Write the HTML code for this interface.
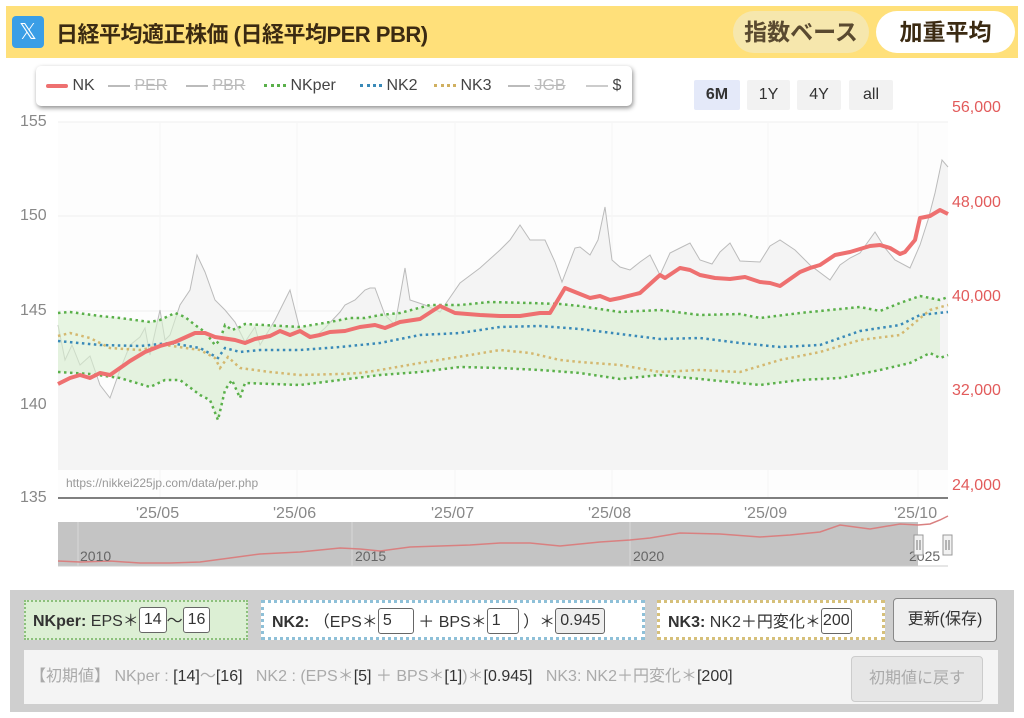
<!DOCTYPE html>
<html><head><meta charset="utf-8">
<style>
body{margin:0;width:1024px;height:718px;background:#fff;font-family:"Liberation Sans","Noto Sans CJK JP",sans-serif;position:relative;overflow:hidden}
.hdr{position:absolute;left:6px;top:6px;width:1012px;height:52px;background:#ffe07a;}
.xic{position:absolute;left:12px;top:16px;width:32px;height:32px;background:#3a9ee6;border-radius:4px;color:#fff;font-size:22px;text-align:center;line-height:32px}
.title{position:absolute;left:56px;top:17px;font-size:22px;font-weight:bold;color:#3b2a12;letter-spacing:-0.5px}
.pill{position:absolute;top:11px;height:42px;border-radius:21px;font-size:23px;font-weight:bold;line-height:42px;text-align:center}
.leg{position:absolute;left:36px;top:66px;width:596px;height:40px;background:#fff;border-radius:5px;box-shadow:1px 2px 5px rgba(0,0,0,.45);font-size:16px;color:#444}
.leg span{position:absolute;top:11px}
.rb{position:absolute;top:80px;height:30px;line-height:30px;text-align:center;background:#f2f2f2;font-size:16px;color:#333;border-radius:2px}
.ax{position:absolute;font-size:16px;color:#888}
.ar{position:absolute;font-size:16px;color:#e25b5b}
.mon{position:absolute;top:505px;font-size:16px;color:#888}
.panel{position:absolute;left:10px;top:590px;width:1004px;height:122px;background:#cfcfcf}
.box{position:absolute;top:600px;height:40px;font-size:16px;color:#333;line-height:40px;box-sizing:border-box}
.inp{display:inline-block;border:1px solid #666;border-radius:3px;background:#fff;height:24px;line-height:24px;padding:0 4px;vertical-align:middle;margin-top:-3px}
</style></head><body>
<div class="hdr"></div>
<div class="xic">𝕏</div>
<div class="title">日経平均適正株価 (日経平均PER PBR)</div>
<div class="pill" style="left:733px;width:136px;background:#f6e7ad;color:#5a4a30">指数ベース</div>
<div class="pill" style="left:876px;width:139px;background:#fff;color:#3b2a12">加重平均</div>

<div class="leg">
<span style="left:10px"><b style="display:inline-block;width:22px;height:4px;background:#ee7070;border-radius:2px;vertical-align:middle"></b> NK</span>
<span style="left:72px;color:#bbb"><b style="display:inline-block;width:22px;height:2px;background:#bbb;vertical-align:middle"></b> <s>PER</s></span>
<span style="left:150px;color:#bbb"><b style="display:inline-block;width:22px;height:2px;background:#bbb;vertical-align:middle"></b> <s>PBR</s></span>
<span style="left:228px"><b style="display:inline-block;width:22px;border-top:3px dotted #5ab04a;vertical-align:middle"></b> NKper</span>
<span style="left:324px"><b style="display:inline-block;width:22px;border-top:3px dotted #3a8ab8;vertical-align:middle"></b> NK2</span>
<span style="left:398px"><b style="display:inline-block;width:22px;border-top:3px dotted #d0b060;vertical-align:middle"></b> NK3</span>
<span style="left:472px;color:#bbb"><b style="display:inline-block;width:22px;height:2px;background:#bbb;vertical-align:middle"></b> <s>JGB</s></span>
<span style="left:550px"><b style="display:inline-block;width:22px;height:2px;background:#ccc;vertical-align:middle"></b> $</span>
</div>
<div class="rb" style="left:694px;width:46px;background:#e4e9f9;font-weight:bold">6M</div>
<div class="rb" style="left:747px;width:43px">1Y</div>
<div class="rb" style="left:797px;width:44px">4Y</div>
<div class="rb" style="left:849px;width:44px">all</div>

<div class="ax" style="left:20px;top:113px">155</div>
<div class="ax" style="left:20px;top:207px">150</div>
<div class="ax" style="left:20px;top:302px">145</div>
<div class="ax" style="left:20px;top:396px">140</div>
<div class="ax" style="left:20px;top:489px">135</div>
<div class="ar" style="left:952px;top:99px">56,000</div>
<div class="ar" style="left:952px;top:194px">48,000</div>
<div class="ar" style="left:952px;top:288px">40,000</div>
<div class="ar" style="left:952px;top:382px">32,000</div>
<div class="ar" style="left:952px;top:477px">24,000</div>

<svg style="position:absolute;left:0;top:0" width="1024" height="718">
<rect x="58" y="122" width="890" height="376" fill="#fdfdfd"/>
<g stroke="#efefef" stroke-width="1">
<line x1="58" y1="122" x2="948" y2="122"/><line x1="58" y1="216" x2="948" y2="216"/><line x1="58" y1="311" x2="948" y2="311"/><line x1="58" y1="405" x2="948" y2="405"/>
<line x1="160" y1="122" x2="160" y2="498" stroke="#f5f5f5"/><line x1="297" y1="122" x2="297" y2="498" stroke="#f5f5f5"/><line x1="455" y1="122" x2="455" y2="498" stroke="#f5f5f5"/><line x1="612" y1="122" x2="612" y2="498" stroke="#f5f5f5"/><line x1="768" y1="122" x2="768" y2="498" stroke="#f5f5f5"/><line x1="918" y1="122" x2="918" y2="498" stroke="#f5f5f5"/>
</g>
<polygon fill="#f4f4f4" points="58,470 58,325 65,360 72,345 80,365 90,356 100,385 110,398 120,370 130,345 140,337 145,328 150,355 160,310 165,340 170,335 180,305 190,290 197,255 205,272 215,300 225,310 235,322 245,342 255,327 260,345 275,320 285,300 290,290 300,330 315,337 325,328 340,312 345,305 355,300 365,290 370,288 375,288 385,315 395,325 405,268 410,300 425,305 440,312 460,283 480,268 500,250 510,240 520,225 530,240 545,240 555,262 562,282 575,248 580,247 590,255 598,240 605,207 612,260 620,267 630,270 640,262 650,255 660,275 670,253 680,248 690,243 700,260 712,264 720,252 730,243 740,261 760,262 770,246 780,240 795,250 810,265 830,280 840,265 850,258 860,253 875,232 885,248 895,260 910,268 920,245 928,220 935,193 942,160 948,167 948,470"/>
<polyline fill="none" stroke="#bbb" stroke-width="1" points="58,325 65,360 72,345 80,365 90,356 100,385 110,398 120,370 130,345 140,337 145,328 150,355 160,310 165,340 170,335 180,305 190,290 197,255 205,272 215,300 225,310 235,322 245,342 255,327 260,345 275,320 285,300 290,290 300,330 315,337 325,328 340,312 345,305 355,300 365,290 370,288 375,288 385,315 395,325 405,268 410,300 425,305 440,312 460,283 480,268 500,250 510,240 520,225 530,240 545,240 555,262 562,282 575,248 580,247 590,255 598,240 605,207 612,260 620,267 630,270 640,262 650,255 660,275 670,253 680,248 690,243 700,260 712,264 720,252 730,243 740,261 760,262 770,246 780,240 795,250 810,265 830,280 840,265 850,258 860,253 875,232 885,248 895,260 910,268 920,245 928,220 935,193 942,160 948,167"/>
<polygon fill="#d8f0d0" fill-opacity="0.6" points="58,313 70,312 100,316 120,318 150,322 160,320 175,313 185,317 195,325 205,332 215,345 220,340 225,325 232,330 240,327 245,324 300,327 330,322 350,318 365,318 380,315 400,313 430,305 460,305 490,302 530,303 560,304 580,306 620,312 660,310 700,315 740,314 760,318 800,313 830,310 860,307 880,311 900,303 920,296 940,300 940,358 930,353 910,363 880,370 840,378 800,380 760,385 700,379 660,375 620,379 580,373 540,370 500,368 460,367 420,372 380,375 340,380 300,385 245,383 240,398 232,380 225,390 218,420 210,400 200,395 180,380 165,380 150,387 120,378 90,374 58,372"/>
<g fill="none" stroke-width="2.5" stroke-dasharray="2.5,3.5">
<polyline stroke="#5ab04a" points="58,313 70,312 100,316 120,318 150,322 160,320 175,313 185,317 195,325 205,332 215,345 220,340 225,325 232,330 240,327 245,324 300,327 330,322 350,318 365,318 380,315 400,313 430,305 460,305 490,302 530,303 560,304 580,306 620,312 660,310 700,315 740,314 760,318 800,313 830,310 860,307 880,311 900,303 920,296 940,300 948,297"/>
<polyline stroke="#5ab04a" points="58,372 90,374 120,378 150,387 165,380 180,380 200,395 210,400 218,420 225,390 232,380 240,398 245,383 300,385 340,380 380,375 420,372 460,367 500,368 540,370 580,373 620,379 660,375 700,379 760,385 800,380 840,378 880,370 910,363 930,353 940,358 948,355"/>
<polyline stroke="#3a8ab8" points="58,341 100,345 140,346 170,343 200,348 218,358 225,348 240,352 260,350 300,350 340,347 380,343 420,335 460,333 500,327 540,326 580,329 620,334 660,339 700,338 740,343 780,347 820,345 860,331 900,325 920,315 948,312"/>
<polyline stroke="#d4b870" points="58,336 70,333 90,338 110,348 140,350 165,345 200,350 215,358 220,368 228,357 240,368 270,372 300,375 340,374 360,373 380,370 420,363 470,355 500,350 530,353 560,360 580,362 620,365 660,372 700,370 740,372 780,360 820,352 860,340 900,335 930,310 948,305"/>
</g>
<polyline fill="none" stroke="#ee7070" stroke-width="4" stroke-linejoin="round" points="58,384 70,378 80,375 90,378 100,373 110,375 120,368 130,361 145,352 160,346 175,342 195,333 205,333 215,337 235,340 245,343 255,339 270,336 280,331 290,335 300,331 310,337 320,335 330,332 345,331 360,327 375,325 385,328 400,322 420,319 440,306 455,313 480,315 500,316 520,316 540,313 550,313 565,288 580,294 590,298 600,296 610,300 620,298 640,293 660,275 665,278 680,268 690,270 700,275 715,278 730,279 745,277 760,282 770,283 780,286 790,279 800,272 810,268 820,265 835,255 850,252 860,249 870,246 880,245 890,248 900,254 905,252 915,240 920,218 930,216 940,210 948,214"/>
<line x1="58" y1="498" x2="948" y2="498" stroke="#555" stroke-width="1.5"/>
<text x="66" y="487" font-size="12" fill="#999" font-family="Liberation Sans">https://nikkei225jp.com/data/per.php</text>
<!-- navigator -->
<rect x="58" y="522" width="860" height="44" fill="#c4c4c4"/>
<rect x="918" y="522" width="30" height="44" fill="#fff"/>
<g stroke="#d9d9d9"><line x1="78" y1="522" x2="78" y2="566"/><line x1="352" y1="522" x2="352" y2="566"/><line x1="630" y1="522" x2="630" y2="566"/></g>
<polyline fill="none" stroke="#d98080" stroke-width="1.5" points="58,561 80,562 110,561 140,563 170,563 200,562 230,558 260,554 300,552 340,548 360,549 380,551 410,547 440,546 470,545 500,543 530,543 560,546 600,542 630,540 650,538 680,533 720,534 760,537 790,535 820,532 840,525 870,529 900,524 918,525 930,524 940,520 948,516"/>
<line x1="58" y1="566" x2="948" y2="566" stroke="#ccc"/>
<g font-size="14" fill="#666" font-family="Liberation Sans"><text x="80" y="561">2010</text><text x="355" y="561">2015</text><text x="633" y="561">2020</text><text x="909" y="561">2025</text></g>
<rect x="914" y="535" width="9" height="20" fill="#f2f2f2" stroke="#999"/>
<rect x="943" y="535" width="9" height="20" fill="#f2f2f2" stroke="#999"/>
<g stroke="#777"><line x1="917" y1="540" x2="917" y2="550"/><line x1="920" y1="540" x2="920" y2="550"/><line x1="946" y1="540" x2="946" y2="550"/><line x1="949" y1="540" x2="949" y2="550"/></g>
</svg>
<div class="mon" style="left:136px">'25/05</div>
<div class="mon" style="left:273px">'25/06</div>
<div class="mon" style="left:431px">'25/07</div>
<div class="mon" style="left:588px">'25/08</div>
<div class="mon" style="left:744px">'25/09</div>
<div class="mon" style="left:894px">'25/10</div>

<div class="panel"></div>
<div class="box" style="left:24px;width:224px;background:#dcefd4;border:2px dotted #8cc07c;padding-left:7px"><b>NKper:</b> EPS＊<span class="inp">14</span>～<span class="inp">16</span></div>
<div class="box" style="left:261px;width:384px;background:#fff;border:3px dotted #8ec0d8;padding-left:8px"><b>NK2:</b> （EPS＊<span class="inp" style="width:26px">5</span> ＋ BPS＊<span class="inp" style="width:22px">1</span> ）＊<span class="inp" style="background:#eee">0.945</span></div>
<div class="box" style="left:657px;width:228px;background:#fff;border:3px dotted #d6c07a;padding-left:8px"><b>NK3:</b> NK2＋円変化＊<span class="inp" style="padding:0 1px">200</span></div>
<div class="box" style="left:893px;width:104px;height:44px;top:598px;background:#efefef;border:1px solid #888;border-radius:4px;text-align:center;line-height:42px">更新(保存)</div>
<div style="position:absolute;left:24px;top:650px;width:974px;height:54px;background:#f4f4f4;font-size:16px;color:#aaa;line-height:54px;padding-left:6px;box-sizing:border-box">【初期値】 NKper : <span style="color:#333">[14]</span>～<span style="color:#333">[16]</span>&nbsp;&nbsp; NK2 : (EPS＊<span style="color:#333">[5]</span> ＋ BPS＊<span style="color:#333">[1]</span>)＊<span style="color:#333">[0.945]</span>&nbsp;&nbsp; NK3: NK2＋円変化＊<span style="color:#333">[200]</span></div>
<div style="position:absolute;left:851px;top:656px;width:130px;height:44px;background:#e6e6e6;border:1px solid #ccc;border-radius:4px;color:#aaa;font-size:16px;text-align:center;line-height:44px">初期値に戻す</div>
</body></html>
